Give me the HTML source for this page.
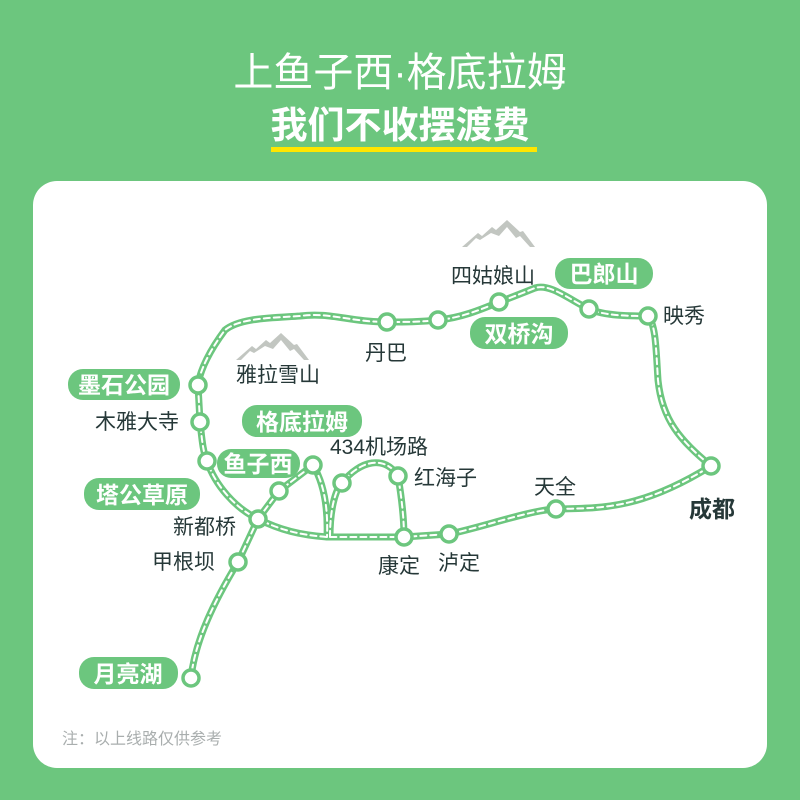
<!DOCTYPE html>
<html><head><meta charset="utf-8"><style>
body{margin:0;width:800px;height:800px;background:#6cc67e;overflow:hidden;font-family:"Liberation Sans","Noto Sans CJK SC",sans-serif}
.card{position:absolute;left:33px;top:181px;width:734px;height:587px;background:#fff;border-radius:24px}
</style></head><body>
<div style="position:absolute;left:0;top:48px;width:800px;text-align:center;color:#fff;font-size:40px;line-height:50px">上鱼子西·格底拉姆</div>
<div style="position:absolute;left:0;top:102px;width:800px;text-align:center;color:#fff;font-size:37px;font-weight:bold;line-height:48px">我们不收摆渡费</div>
<div style="position:absolute;left:271px;top:147px;width:266px;height:5px;background:#ffe600"></div>
<div class="card"></div>
<svg style="position:absolute;left:0;top:0" width="800" height="800" font-family="Liberation Sans, Noto Sans CJK SC, sans-serif">
<g fill="none" stroke-linecap="round" stroke-linejoin="round">
<g stroke="#6cc67e" stroke-width="7">
<path d="M711,466 C680,440 662,420 658,380 C656,350 656,325 648,316 C630,316 605,316 589,309 C570,300 550,283 535,288 C520,294 510,298 499,302 C480,310 460,318 438,320 C420,322 405,322 387,322 C350,322 330,312 300,316 C270,318 240,318 225,330 C210,350 200,370 198,385 L200,422 C202,440 203,452 207,461 C215,485 235,508 258,519 C280,530 300,535 327,537 L404,537 L449,534 C480,528 530,510 556,509 C600,508 640,510 711,466"/>
<path d="M258,519 L279,491 L313,465 C325,485 328,510 327,537"/>
<path d="M258,519 L238,562 C215,600 195,640 191,678"/>
<path d="M330,537 C330,510 335,490 342,483 C360,460 385,455 398,476 C402,500 404,520 404,537"/>
</g>
<g stroke="#fff" stroke-width="2" stroke-dasharray="6 4">
<path d="M711,466 C680,440 662,420 658,380 C656,350 656,325 648,316 C630,316 605,316 589,309 C570,300 550,283 535,288 C520,294 510,298 499,302 C480,310 460,318 438,320 C420,322 405,322 387,322 C350,322 330,312 300,316 C270,318 240,318 225,330 C210,350 200,370 198,385 L200,422 C202,440 203,452 207,461 C215,485 235,508 258,519 C280,530 300,535 327,537 L404,537 L449,534 C480,528 530,510 556,509 C600,508 640,510 711,466"/>
<path d="M258,519 L279,491 L313,465 C325,485 328,510 327,537"/>
<path d="M258,519 L238,562 C215,600 195,640 191,678"/>
<path d="M330,537 C330,510 335,490 342,483 C360,460 385,455 398,476 C402,500 404,520 404,537"/>
</g>
</g>
<g fill="#fff" stroke="#6cc67e" stroke-width="3.5">
<circle cx="198" cy="385" r="8"/><circle cx="200" cy="422" r="8"/><circle cx="207" cy="461" r="8"/>
<circle cx="279" cy="491" r="8"/><circle cx="313" cy="465" r="8"/><circle cx="258" cy="519" r="8"/>
<circle cx="238" cy="562" r="8"/><circle cx="191" cy="678" r="8"/><circle cx="387" cy="322" r="8"/>
<circle cx="438" cy="320" r="8"/><circle cx="499" cy="302" r="8"/><circle cx="589" cy="309" r="8"/>
<circle cx="648" cy="316" r="8"/><circle cx="711" cy="466" r="8"/><circle cx="556" cy="509" r="8"/>
<circle cx="449" cy="534" r="8"/><circle cx="404" cy="537" r="8"/><circle cx="398" cy="476" r="8"/>
<circle cx="342" cy="483" r="8"/>
</g>
<g fill="#c2c6c1">
<path d="M236,360 L252,346 L256,349 L266,340 L270,343 L281,333 L294,345 L297,344 L309,360 L304,360 L294,349 L290,351 L281,340 L273,349 L265,346 L254,353 L250,351 L241,360Z"/>
<path d="M462,247 L478,233 L482,236 L492,227 L496,230 L507,220 L520,232 L523,231 L535,247 L530,247 L520,236 L516,238 L507,227 L499,236 L491,233 L480,240 L476,238 L467,247Z"/>
</g>
<g fill="#6cc67e">
<rect x="68" y="369" width="112" height="31" rx="15"/>
<rect x="242" y="405" width="120" height="32" rx="15"/>
<rect x="217" y="449" width="83" height="29" rx="14"/>
<rect x="84" y="478" width="116" height="32" rx="15"/>
<rect x="79" y="657" width="99" height="32" rx="15"/>
<rect x="555" y="258" width="98" height="31" rx="15"/>
<rect x="470" y="317" width="98" height="32" rx="15"/>
</g>
<g fill="#fff" font-size="23" font-weight="bold" text-anchor="middle">
<text x="124" y="393">墨石公园</text><text x="302" y="430">格底拉姆</text><text x="258" y="472">鱼子西</text>
<text x="142" y="503">塔公草原</text><text x="128" y="682">月亮湖</text><text x="604" y="282">巴郎山</text>
<text x="519" y="342">双桥沟</text>
</g>
<g fill="#263838" font-size="21">
<text x="236" y="382">雅拉雪山</text><text x="365" y="360">丹巴</text><text x="451" y="283">四姑娘山</text>
<text x="663" y="323">映秀</text><text x="95" y="429">木雅大寺</text><text x="173" y="534">新都桥</text>
<text x="152" y="569">甲根坝</text><text x="330" y="454">434机场路</text><text x="414" y="485">红海子</text>
<text x="534" y="494">天全</text><text x="378" y="573">康定</text><text x="438" y="570">泸定</text>
<text x="689" y="517" font-weight="bold" font-size="23">成都</text>
</g>
<text x="62" y="744" fill="#a9aeae" font-size="16">注：以上线路仅供参考</text>
</svg>
</body></html>
